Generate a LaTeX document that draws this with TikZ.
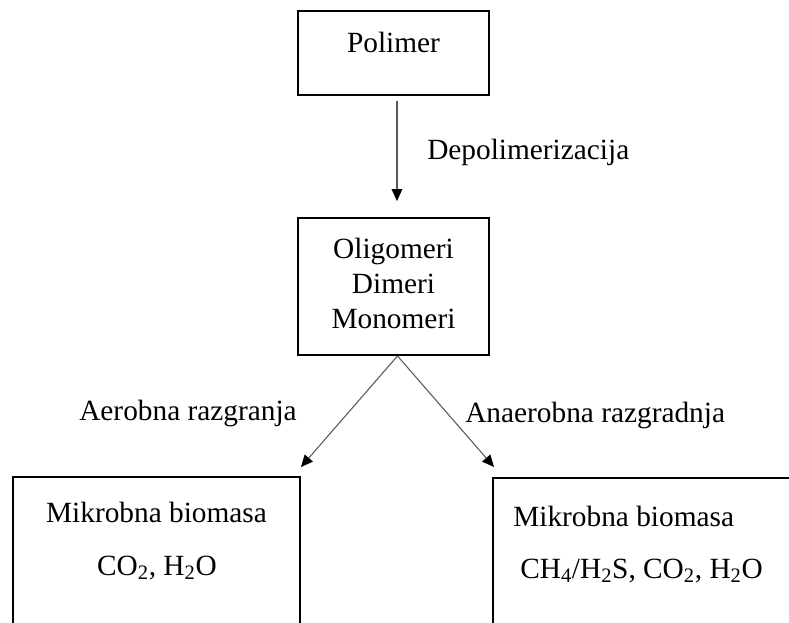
\documentclass[tikz,border=0pt]{standalone}
\usepackage{fontspec}
\setmainfont{Liberation Serif}
\usetikzlibrary{arrows.meta}
\newcommand\dfont{\fontsize{22}{26.25}\selectfont}

\begin{document}
\begin{tikzpicture}[x=0.75pt, y=-0.75pt,
    box/.style={draw, line width=1.4pt, inner sep=0pt},
    lbl/.style={font=\dfont, inner sep=0pt},
    arr/.style={draw=black!65, line width=0.8pt, -{Triangle[length=9pt, width=8pt, color=black]}}]
    \useasboundingbox (0,0) rectangle (789,623);
    \clip (0,0) rectangle (789,623);
    % okviri
    \node[box, minimum width=143.25pt, minimum height=63pt] (polimer) at (393.5,53) {};
    \node[box, minimum width=143.25pt, minimum height=102.75pt] (produkti) at (393.5,286.5) {};
    \node[box, minimum width=215.25pt, minimum height=167.25pt] (aerob) at (156.5,588.5) {};
    \node[box, minimum width=267.75pt, minimum height=166.5pt] (anaerob) at (671.5,589) {};
    % tekst u okvirima
    \node[lbl] (tpolimer) at (393.5,42) {Polimer};
    \node[lbl, align=center] (tprodukti) at (393.5,283) {Oligomeri\\Dimeri\\Monomeri};
    \node[lbl] (tbio1) at (156.5,512) {Mikrobna biomasa};
    \node[lbl] (tplin1) at (157,568) {CO\textsubscript{2}, H\textsubscript{2}O};
    \node[lbl, anchor=west] (tbio2) at (513,516) {Mikrobna biomasa};
    \node[lbl, anchor=west] (tplin2) at (520,571) {CH\textsubscript{4}/H\textsubscript{2}S, CO\textsubscript{2}, H\textsubscript{2}O};
    % strelice
    \draw[arr] ([xshift=2.6pt, yshift=-3.75pt]polimer.south) -- ([xshift=2.6pt, yshift=12pt]produkti.north);
    \draw[arr] ([xshift=3pt]produkti.south) -- ([yshift=6.75pt]aerob.north east);
    \draw[arr] ([xshift=3pt]produkti.south) -- ([xshift=1.5pt, yshift=7.5pt]anaerob.north west);
    % oznake
    \node[lbl, anchor=west] (depol) at (427,152) {Depolimerizacija};
    \node[lbl] (aerobl) at (188,413) {Aerobna razgranja};
    \node[lbl, anchor=west] (anaerobl) at (465,415) {Anaerobna razgradnja};
\end{tikzpicture}
\end{document}
